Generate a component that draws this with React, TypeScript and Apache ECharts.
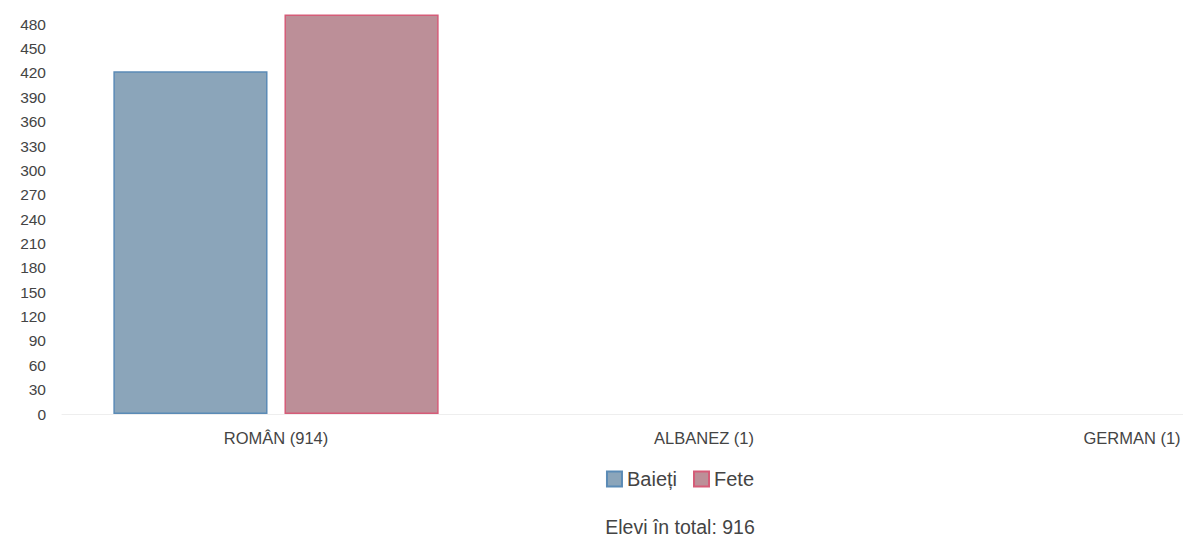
import React, { useEffect, useRef } from "react";
import * as echarts from "echarts";

const categories = ["ROMÂN (914)", "ALBANEZ (1)", "GERMAN (1)"];
const baieti = [422, 1, 0];
const fete = [492, 0, 1];
const totalText = "Elevi în total: 916";
const yInterval = 30;
const yMax = 495;

const toData = (arr: number[]) =>
  arr.map((v) => (v <= 1 ? { value: v === 0 ? "-" : v, itemStyle: { borderWidth: 0, opacity: 0 } } : v));

export default function App() {
  const ref = useRef<HTMLDivElement>(null);
  useEffect(() => {
    if (!ref.current) return;
    const chart = echarts.init(ref.current, null, { renderer: "svg" });
    chart.setOption({
      animation: false,
      textStyle: { fontFamily: "Liberation Sans, Arial, sans-serif" },
      title: {
        text: totalText,
        left: "center",
        top: 512,
        textStyle: { fontSize: 19.5, fontWeight: "normal", color: "#444" },
      },
      legend: {
        top: 464,
        left: "center",
        icon: "rect",
        itemWidth: 15,
        itemHeight: 15,
        itemGap: 16,
        textStyle: { fontSize: 20, color: "#444" },
        data: ["Baieți", "Fete"],
      },
      grid: { left: 62, right: 14, top: 12, bottom: 123 },
      xAxis: {
        type: "category",
        data: categories,
        axisLine: { lineStyle: { color: "#eee" } },
        axisTick: { show: false },
        axisLabel: { fontSize: 16.5, color: "#444", margin: 15 },
      },
      yAxis: {
        type: "value",
        min: 0,
        max: yMax,
        interval: yInterval,
        axisLine: { show: false },
        axisTick: { show: false },
        splitLine: { show: false },
        axisLabel: { fontSize: 15.5, color: "#444", margin: 16, showMaxLabel: false },
      },
      series: [
        {
          name: "Baieți",
          type: "bar",
          data: toData(baieti),
          barGap: "11%",
          barCategoryGap: "24%",
          itemStyle: { color: "#8ba5ba", borderColor: "#5b8bb6", borderWidth: 1.5 },
        },
        {
          name: "Fete",
          type: "bar",
          data: toData(fete),
          itemStyle: { color: "#bc8f98", borderColor: "#d55c78", borderWidth: 1.5 },
        },
      ],
    });
    return () => chart.dispose();
  }, []);
  return (
    <div style={{ position: "fixed", left: 0, top: 0, width: 1183, height: 537, overflow: "hidden", background: "#fff" }}>
      <div ref={ref} style={{ width: 1360, height: 537 }} />
    </div>
  );
}
